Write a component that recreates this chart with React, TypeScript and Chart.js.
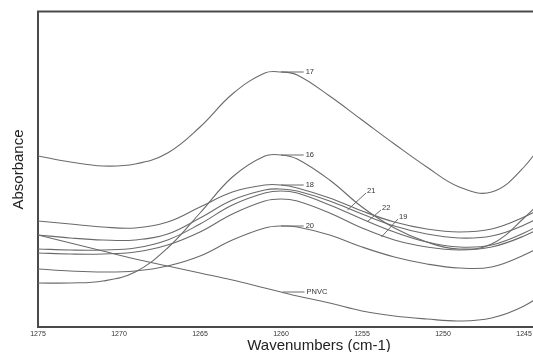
import React, { useEffect, useRef } from 'react';
import { Chart, registerables } from 'chart.js';

Chart.register(...registerables);

// Wavenumber grid (cm-1)
const wavenumbers = [1275, 1273, 1271, 1269, 1267, 1265, 1263, 1261, 1260, 1259, 1257, 1255, 1253, 1251, 1249, 1247, 1245, 1243];

const s17 = [0.171, 0.165, 0.161, 0.163, 0.174, 0.200, 0.233, 0.254, 0.255, 0.252, 0.231, 0.207, 0.183, 0.160, 0.140, 0.135, 0.160, 0.205];
const s16 = [0.044, 0.044, 0.046, 0.055, 0.079, 0.114, 0.150, 0.171, 0.172, 0.168, 0.147, 0.120, 0.099, 0.085, 0.078, 0.083, 0.109, 0.142];
const s18 = [0.106, 0.103, 0.100, 0.099, 0.105, 0.120, 0.135, 0.142, 0.142, 0.139, 0.129, 0.116, 0.105, 0.098, 0.095, 0.098, 0.110, 0.127];
const s21 = [0.092, 0.089, 0.087, 0.087, 0.093, 0.109, 0.127, 0.137, 0.138, 0.136, 0.126, 0.113, 0.101, 0.093, 0.089, 0.091, 0.102, 0.119];
const s22 = [0.078, 0.077, 0.077, 0.079, 0.087, 0.103, 0.122, 0.134, 0.136, 0.134, 0.122, 0.108, 0.095, 0.085, 0.080, 0.082, 0.094, 0.112];
const s19 = [0.074, 0.073, 0.073, 0.075, 0.082, 0.095, 0.113, 0.126, 0.128, 0.126, 0.114, 0.099, 0.087, 0.080, 0.077, 0.080, 0.091, 0.107];
const s20 = [0.058, 0.056, 0.055, 0.056, 0.061, 0.071, 0.087, 0.099, 0.101, 0.100, 0.092, 0.080, 0.070, 0.063, 0.059, 0.060, 0.072, 0.089];
const sPNVC = [0.092, 0.084, 0.076, 0.068, 0.061, 0.054, 0.047, 0.039, 0.035, 0.031, 0.024, 0.016, 0.011, 0.008, 0.006, 0.009, 0.021, 0.042];

const seriesNames = ['17', '16', '18', '21', '22', '19', '20', 'PNVC'];
const seriesValues = [s17, s16, s18, s21, s22, s19, s20, sPNVC];

// Curve labels with leader lines (data coordinates)
const labelNames = ['17', '16', '18', '20', 'PNVC', '21', '22', '19'];
const labelFromX = [1260.0, 1260.0, 1260.0, 1260.0, 1259.9, 1255.9, 1254.7, 1253.8];
const labelFromY = [0.255, 0.172, 0.142, 0.101, 0.035, 0.117, 0.105, 0.090];
const labelToX = [1258.6, 1258.6, 1258.6, 1258.6, 1258.55, 1254.75, 1253.83, 1252.78];
const labelToY = [0.255, 0.172, 0.142, 0.101, 0.035, 0.134, 0.117, 0.108];

const xTitle = 'Wavenumbers (cm-1)';
const yTitle = 'Absorbance';

const LINE = '#6a6a6a';
const FONT = '"Liberation Sans", Arial, sans-serif';

const annotPlugin = {
  id: 'annot',
  afterDatasetsDraw(chart: any) {
    const { ctx, chartArea, scales } = chart;
    const x = scales.x;
    const y = scales.y;
    ctx.save();
    // top frame line
    ctx.strokeStyle = '#4a4a4a';
    ctx.lineWidth = 2;
    ctx.beginPath();
    ctx.moveTo(chartArea.left - 1, chartArea.top - 0.5);
    ctx.lineTo(chartArea.right, chartArea.top - 0.5);
    ctx.stroke();

    ctx.strokeStyle = LINE;
    ctx.lineWidth = 1;
    ctx.fillStyle = '#333';
    ctx.font = '7.5px ' + FONT;
    ctx.textAlign = 'left';
    ctx.textBaseline = 'middle';
    labelNames.forEach((name, i) => {
      const x1 = x.getPixelForValue(labelFromX[i]);
      const y1 = y.getPixelForValue(labelFromY[i]);
      const x2 = x.getPixelForValue(labelToX[i]);
      const y2 = y.getPixelForValue(labelToY[i]);
      ctx.beginPath();
      ctx.moveTo(x1, y1);
      ctx.lineTo(x2, y2);
      ctx.stroke();
      const diag = Math.abs(y2 - y1) > 0.5;
      ctx.fillText(name, x2 + (diag ? 1 : 2), y2 - (diag ? 2 : 0));
    });
    ctx.restore();
  },
};

export default function App() {
  const ref = useRef<HTMLCanvasElement | null>(null);
  useEffect(() => {
    if (!ref.current) return;
    const chart = new Chart(ref.current, {
      type: 'line',
      data: {
        datasets: seriesNames.map((name, k) => ({
          label: name,
          data: wavenumbers.map((w, i) => ({ x: w, y: seriesValues[k][i] })),
          borderColor: LINE,
          borderWidth: 1.1,
          pointRadius: 0,
          fill: false,
          tension: 0.4,
        })),
      },
      options: {
        animation: false,
        responsive: false,
        maintainAspectRatio: false,
        layout: { padding: { top: 12, left: 0, right: 0, bottom: 0 } },
        plugins: {
          legend: { display: false },
          tooltip: { enabled: false },
        },
        scales: {
          x: {
            type: 'linear',
            reverse: true,
            min: 1240.31,
            max: 1275,
            afterFit: (s: any) => {
              s.height = 25;
            },
            grid: { display: false, drawTicks: false },
            border: { display: true, color: '#4a4a4a', width: 2 },
            ticks: {
              stepSize: 5,
              includeBounds: false,
              padding: 3,
              color: '#333',
              font: { size: 7, family: FONT },
              maxRotation: 0,
              autoSkip: false,
              callback: (v: any) => String(v),
            },
            title: {
              display: true,
              text: xTitle,
              color: '#222',
              font: { size: 15, family: FONT, lineHeight: 0.85 },
              padding: { top: 0, bottom: 0 },
            },
          },
          y: {
            type: 'linear',
            min: 0,
            max: 0.315,
            afterFit: (s: any) => {
              s.width = 38;
            },
            grid: { display: false, drawTicks: false },
            border: { display: true, color: '#4a4a4a', width: 2 },
            ticks: { display: false },
            title: {
              display: true,
              text: yTitle,
              color: '#222',
              font: { size: 15, family: FONT },
              padding: { top: 10, bottom: 0 },
            },
          },
        },
      },
      plugins: [annotPlugin],
    });
    return () => chart.destroy();
  }, []);

  return (
    <div style={{ position: 'fixed', left: 0, top: 0, width: 600, height: 352, background: '#fff' }}>
      <canvas ref={ref} width={600} height={352} style={{ width: 600, height: 352, display: 'block' }} />
    </div>
  );
}
